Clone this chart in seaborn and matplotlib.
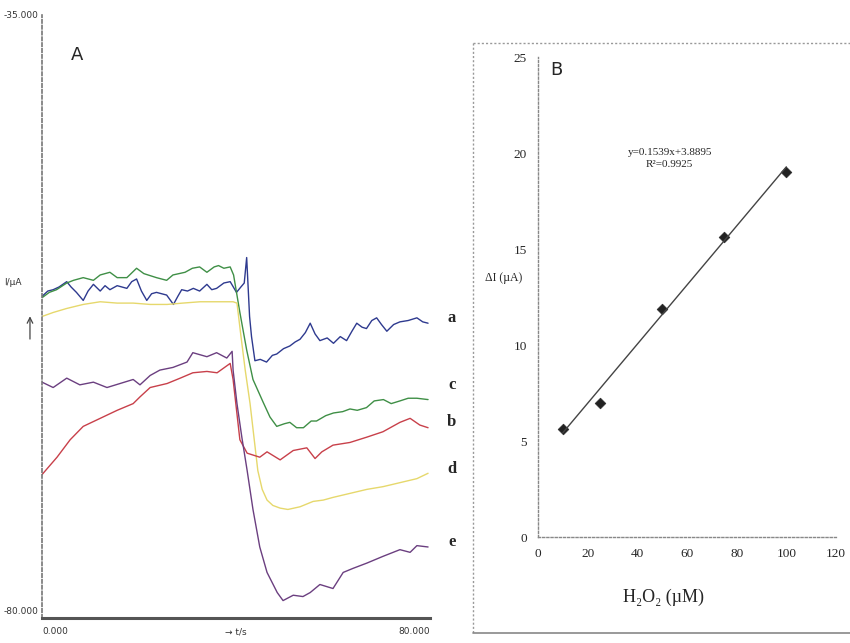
import numpy as np
import pandas as pd
import matplotlib.pyplot as plt
import seaborn as sns
from matplotlib.lines import Line2D

sns.set_style("white")
plt.rcParams['font.family'] = ['DejaVu Sans']
SERIF = ['Liberation Serif', 'DejaVu Serif']

# ---- panel A: current-time traces (t in s, I in uA) ----
t_a = [0.0, 1.2, 2.3, 3.5, 5.1, 6.0, 7.1, 8.5, 9.5, 10.6, 12.0, 13.0, 14.0, 15.5, 17.5, 18.5,
       19.5, 20.5, 21.6, 22.6, 23.6, 25.7, 27.1, 28.0, 28.8, 30.0, 31.2, 32.5, 34.0, 35.0, 36.0,
       37.5, 38.8, 40.1, 41.0, 41.7, 42.2, 42.8, 43.2, 43.9, 45.0, 46.3, 47.5, 48.4, 49.8, 51.1,
       52.2, 53.2, 54.3, 55.3, 56.3, 57.3, 58.8, 60.1, 61.5, 62.8, 63.9, 64.9, 66.0, 66.9, 68.0,
       69.0, 70.0, 71.1, 72.5, 73.8, 75.5, 77.3, 78.5, 79.6]
i_a = [-56.0, -55.6, -55.5, -55.3, -54.9, -55.3, -55.7, -56.3, -55.6, -55.1, -55.6, -55.2, -55.5,
       -55.2, -55.4, -54.9, -54.7, -55.6, -56.3, -55.8, -55.7, -55.9, -56.6, -56.0, -55.5, -55.6,
       -55.4, -55.6, -55.1, -55.5, -55.4, -55.0, -54.9, -55.7, -55.3, -55.0, -53.1, -57.5, -59.0,
       -60.8, -60.7, -60.9, -60.4, -60.3, -59.9, -59.7, -59.4, -59.2, -58.7, -58.0, -58.8, -59.3,
       -59.1, -59.5, -59.0, -59.3, -58.6, -58.0, -58.3, -58.4, -57.8, -57.6, -58.1, -58.6, -58.1,
       -57.9, -57.8, -57.6, -57.9, -58.0]

t_green = [0.0, 1.5, 3.0, 5.1, 6.5, 8.5, 10.6, 12.0, 14.0, 15.5, 17.5, 19.5, 21.0, 23.6, 25.7,
           27.0, 29.5, 31.0, 32.5, 34.0, 35.5, 36.4, 37.5, 38.8, 39.5, 40.8, 42.2, 43.5, 45.6,
           47.0, 48.4, 50.0, 51.1, 52.5, 53.9, 55.5, 56.6, 58.5, 60.1, 62.0, 63.5, 65.0, 66.9,
           68.5, 70.4, 72.0, 73.8, 75.5, 77.3, 79.6]
i_green = [-56.1, -55.7, -55.5, -55.0, -54.8, -54.6, -54.8, -54.4, -54.2, -54.6, -54.6, -53.9,
           -54.3, -54.6, -54.8, -54.4, -54.2, -53.9, -53.8, -54.2, -53.8, -53.7, -53.9, -53.8,
           -54.4, -57.2, -60.0, -62.2, -63.9, -65.0, -65.7, -65.5, -65.4, -65.8, -65.8, -65.3,
           -65.3, -64.9, -64.7, -64.6, -64.4, -64.5, -64.3, -63.8, -63.7, -64.0, -63.8, -63.6,
           -63.6, -63.7]

t_yellow = [0.0, 2.3, 5.1, 8.5, 12.0, 15.5, 18.8, 22.3, 25.8, 29.0, 32.6, 36.0, 39.4, 40.2, 41.0,
            41.9, 42.9, 44.5, 45.4, 46.4, 47.6, 49.1, 50.7, 53.2, 55.9, 58.0, 60.0, 63.5, 67.0,
            70.3, 73.8, 77.3, 79.6]
i_yellow = [-57.5, -57.2, -56.9, -56.6, -56.4, -56.5, -56.5, -56.6, -56.6, -56.5, -56.4, -56.4,
            -56.4, -56.5, -58.9, -61.5, -64.0, -69.0, -70.4, -71.2, -71.6, -71.8, -71.9, -71.7,
            -71.3, -71.2, -71.0, -70.7, -70.4, -70.2, -69.9, -69.6, -69.2]

t_red = [0.0, 3.1, 5.8, 8.5, 12.0, 15.5, 18.8, 20.2, 22.3, 25.8, 28.5, 31.1, 34.0, 36.1, 38.8,
         39.4, 40.8, 42.3, 44.9, 46.4, 49.1, 51.8, 54.6, 56.3, 57.7, 60.0, 63.5, 67.0, 70.3,
         73.8, 75.9, 77.9, 79.6]
i_red = [-69.3, -68.0, -66.7, -65.7, -65.1, -64.5, -64.0, -63.5, -62.8, -62.5, -62.1, -61.7,
         -61.6, -61.7, -61.0, -62.2, -66.7, -67.7, -68.0, -67.6, -68.2, -67.5, -67.3, -68.1,
         -67.6, -67.1, -66.9, -66.5, -66.1, -65.4, -65.1, -65.6, -65.8]

t_e = [0.0, 2.3, 5.1, 7.8, 10.6, 13.4, 16.1, 18.8, 20.2, 22.3, 24.3, 27.0, 29.9, 31.1, 34.0,
       36.0, 38.1, 39.2, 39.4, 40.2, 41.2, 42.3, 43.5, 44.9, 46.4, 48.5, 49.7, 51.8, 53.8, 55.3,
       57.3, 60.0, 62.1, 64.1, 67.0, 70.3, 73.8, 75.9, 77.3, 79.6]
i_e = [-62.4, -62.8, -62.1, -62.6, -62.4, -62.8, -62.5, -62.2, -62.6, -61.9, -61.5, -61.3,
       -60.9, -60.2, -60.5, -60.2, -60.6, -60.1, -61.5, -64.0, -66.5, -69.0, -71.9, -74.7,
       -76.6, -78.1, -78.7, -78.3, -78.4, -78.1, -77.5, -77.8, -76.6, -76.3, -75.9, -75.4,
       -74.9, -75.1, -74.6, -74.7]

trace_colors = {'a': '#2e3a8f', 'green': '#3f8f46', 'yellow': '#e6d86c',
                'red': '#c8404a', 'e': '#6b3f80'}
trace_labels = ['a', 'c', 'b', 'd', 'e']
label_pos = [-57.6, -62.6, -65.4, -68.9, -74.3]

# ---- panel B: calibration ----
conc = [10, 25, 50, 75, 100]
delta_i = [5.6, 7.0, 11.9, 15.6, 19.0]
slope, intercept = 0.1539, 3.8895
xticks_b = [0, 20, 40, 60, 80, 100, 120]
yticks_b = [0, 5, 10, 15, 20, 25]

fig = plt.figure(figsize=(8.5, 6.43), dpi=100)

# ----- A -----
axA = fig.add_axes([42 / 850, 25 / 643, 388 / 850, 603 / 643])
for (tt, ii), key in zip([(t_a, i_a), (t_green, i_green), (t_yellow, i_yellow),
                          (t_red, i_red), (t_e, i_e)],
                         ['a', 'green', 'yellow', 'red', 'e']):
    sns.lineplot(x=tt, y=ii, ax=axA, color=trace_colors[key], lw=1.0, sort=False,
                 estimator=None)
axA.set_xlim(0, 80)
axA.set_ylim(-80, -35)
axA.set_xticks([])
axA.set_yticks([])
for s in ['top', 'right']:
    axA.spines[s].set_visible(False)
axA.spines['left'].set_linestyle((0, (2, 1.5)))
axA.spines['left'].set_color('#777777')
axA.spines['left'].set_linewidth(1.2)
axA.spines['bottom'].set_color('#555555')
axA.spines['bottom'].set_linewidth(2.2)

small = dict(fontsize=6.5, color='#333333')
axA.text(-0.008, 1.0, '-35.000', ha='right', va='center', transform=axA.transAxes, **small)
axA.text(-0.008, 0.01, '-80.000', ha='right', va='center', transform=axA.transAxes, **small)
axA.text(0.0, -0.023, '0.000', ha='left', va='center', transform=axA.transAxes, **small)
axA.text(1.0, -0.023, '80.000', ha='right', va='center', transform=axA.transAxes, **small)
axA.text(0.5, -0.023, '→ t/s', ha='center', va='center', transform=axA.transAxes, **small)
axA.text(-0.075, 0.556, 'I/µA', ha='center', va='center', transform=axA.transAxes, **small)
axA.annotate('', xy=(-0.031, 0.505), xytext=(-0.031, 0.458), xycoords='axes fraction',
             arrowprops=dict(arrowstyle='->', color='#444444', lw=0.9), annotation_clip=False)
axA.text(0.09, 0.934, 'A', fontsize=13, ha='center', va='center', transform=axA.transAxes)
for lab, yv in zip(trace_labels, label_pos):
    axA.text(84.5, yv, lab, fontsize=12, fontweight='bold', family=SERIF,
             ha='center', va='center', clip_on=False)

# ----- B outer frame -----
fx = lambda px: px / 850
fy = lambda py: 1 - py / 643
fig.add_artist(Line2D([fx(473), fx(850)], [fy(43), fy(43)], color='#999999', lw=1.0,
                      linestyle=(0, (1.5, 1.5)), transform=fig.transFigure))
fig.add_artist(Line2D([fx(473), fx(473)], [fy(43), fy(633)], color='#999999', lw=1.0,
                      linestyle=(0, (1.5, 1.5)), transform=fig.transFigure))
fig.add_artist(Line2D([fx(473), fx(850)], [fy(633), fy(633)], color='#888888', lw=1.2,
                      transform=fig.transFigure))

# ----- B -----
axB = fig.add_axes([538 / 850, 106 / 643, 298 / 850, 480 / 643])
fit_x = np.array([conc[0], conc[-1]])
sns.lineplot(x=fit_x, y=slope * fit_x + intercept, ax=axB, color='#444444', lw=1.0)
sns.scatterplot(x=conc, y=delta_i, ax=axB, marker='D', s=30, color='#222222',
                edgecolor='#222222')
axB.set_xlim(0, 120)
axB.set_ylim(0, 25)
axB.set_xticks(xticks_b)
axB.set_yticks(yticks_b)
axB.set_xticklabels([str(v) for v in xticks_b], family=SERIF, fontsize=9.5)
axB.set_yticklabels([str(v) for v in yticks_b], family=SERIF, fontsize=9.5)
axB.tick_params(length=0, pad=8)
for s in ['top', 'right']:
    axB.spines[s].set_visible(False)
for s in ['left', 'bottom']:
    axB.spines[s].set_linestyle((0, (1.5, 1.5)))
    axB.spines[s].set_color('#888888')
    axB.spines[s].set_linewidth(1.0)
axB.text(7.5, 24.3, 'B', fontsize=13, ha='center', va='center')
axB.text(53, 20.05, 'y=0.1539x+3.8895', family=SERIF, fontsize=8, ha='center', va='center')
axB.text(53, 19.4, 'R²=0.9925', family=SERIF, fontsize=8, ha='center', va='center')
axB.text(-0.117, 0.54, 'ΔI (µA)', family=SERIF, fontsize=8.5, ha='center', va='center',
         transform=axB.transAxes)
axB.text(0.42, -0.125, 'H₂O₂ (µM)', family=SERIF, fontsize=13, ha='center', va='center',
         transform=axB.transAxes)

fig.savefig('out.png', dpi=100)
